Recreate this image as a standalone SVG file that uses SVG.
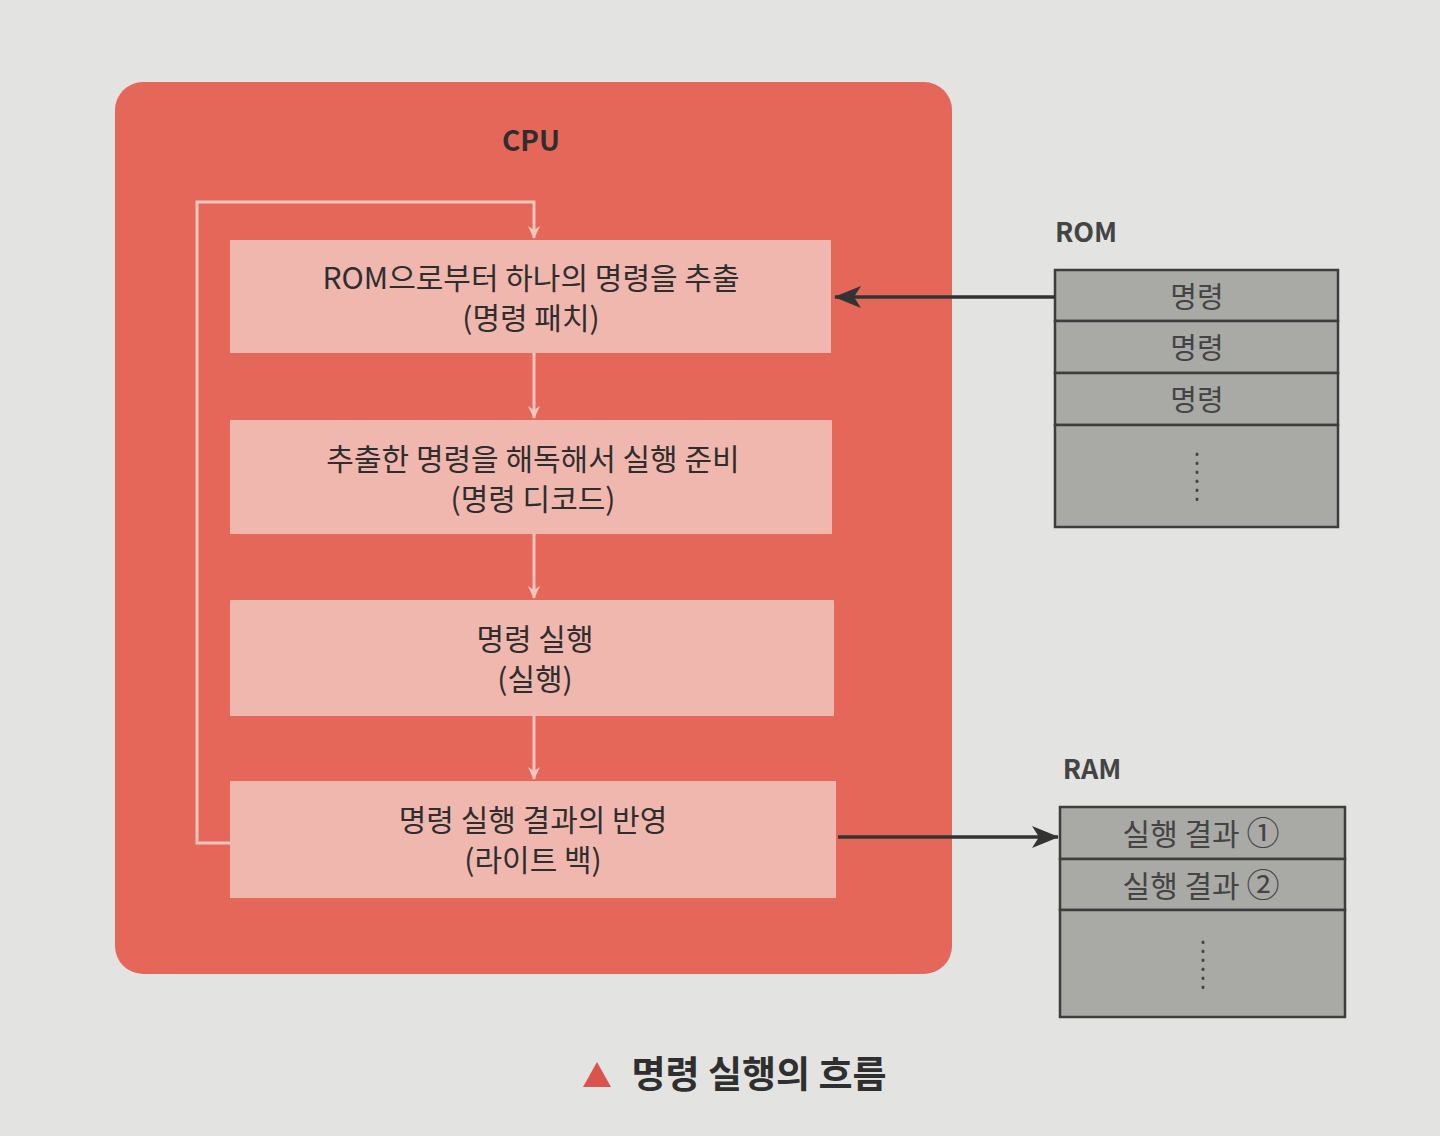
<svg xmlns="http://www.w3.org/2000/svg" width="1440" height="1136" viewBox="0 0 1440 1136">
<defs>
<style>
.t{font-family:"Noto Sans CJK KR","Noto Sans",sans-serif;fill:#2e2e2e;text-anchor:middle}
.box{fill:#f0b7ae;stroke:none}
.cell{fill:#a9a9a6;stroke:#3d3d3d;stroke-width:2.5}
.lt{stroke:#f4c6bd;stroke-width:3;fill:none}
.dk{stroke:#333;stroke-width:3.5;fill:none}
.b{font-weight:bold}
.g{fill:#444}
</style>
<marker id="ah" markerWidth="14" markerHeight="14" refX="12" refY="7" orient="auto" markerUnits="userSpaceOnUse">
<path d="M0,1 L13,7 L0,13 L4,7 Z" fill="#f4c6bd"/>
</marker>
<marker id="ahd" markerWidth="28" markerHeight="22" refX="26" refY="11" orient="auto" markerUnits="userSpaceOnUse">
<path d="M0,0 L27,11 L0,22 L7,11 Z" fill="#333"/>
</marker>
</defs>
<rect width="1440" height="1136" fill="#e3e3e1"/>
<g id="cpu">
<rect x="115" y="82" width="837" height="892" rx="28" fill="#e5675a"/>
<text class="t b" x="531" y="151" font-size="28">CPU</text>
</g>
<g id="fetch">
<rect class="box" x="230" y="240" width="601" height="113"/>
<text class="t" x="531" y="289" font-size="30">ROM으로부터 하나의 명령을 추출</text>
<text class="t" x="531" y="329" font-size="30">(명령 패치)</text>
</g>
<g id="decode">
<rect class="box" x="230" y="420" width="602" height="114"/>
<text class="t" x="533" y="470" font-size="30">추출한 명령을 해독해서 실행 준비</text>
<text class="t" x="533" y="510" font-size="30">(명령 디코드)</text>
</g>
<g id="execute">
<rect class="box" x="230" y="600" width="604" height="116"/>
<text class="t" x="535" y="650" font-size="30">명령 실행</text>
<text class="t" x="535" y="690" font-size="30">(실행)</text>
</g>
<g id="writeback">
<rect class="box" x="230" y="781" width="606" height="117"/>
<text class="t" x="533" y="831" font-size="30">명령 실행 결과의 반영</text>
<text class="t" x="533" y="871" font-size="30">(라이트 백)</text>
</g>
<g id="rom">
<text class="t b g" x="1086" y="242" font-size="27">ROM</text>
<rect class="cell" x="1055" y="270" width="283" height="51"/>
<rect class="cell" x="1055" y="321" width="283" height="52"/>
<rect class="cell" x="1055" y="373" width="283" height="52"/>
<rect class="cell" x="1055" y="425" width="283" height="102"/>
<text class="t g" x="1197" y="308" font-size="29">명령</text>
<text class="t g" x="1197" y="359" font-size="29">명령</text>
<text class="t g" x="1197" y="411" font-size="29">명령</text>
<line x1="1197" y1="454" x2="1197" y2="500" stroke="#444" stroke-width="3" stroke-dasharray="0.5 8.5" stroke-linecap="round"/>
</g>
<g id="ram">
<text class="t b g" x="1092" y="779" font-size="27">RAM</text>
<rect class="cell" x="1060" y="807" width="285" height="52"/>
<rect class="cell" x="1060" y="859" width="285" height="51"/>
<rect class="cell" x="1060" y="910" width="285" height="107"/>
<text class="t g" x="1201" y="845" font-size="30">실행 결과 <tspan font-size="33">①</tspan></text>
<text class="t g" x="1201" y="897" font-size="30">실행 결과 <tspan font-size="33">②</tspan></text>
<line x1="1203" y1="942" x2="1203" y2="988" stroke="#444" stroke-width="3" stroke-dasharray="0.5 8.5" stroke-linecap="round"/>
</g>
<g id="connectors">
<path class="lt" d="M230,843 H197 V202 H534 V238" marker-end="url(#ah)"/>
<line class="lt" x1="534" y1="353" x2="534" y2="418" marker-end="url(#ah)"/>
<line class="lt" x1="534" y1="534" x2="534" y2="598" marker-end="url(#ah)"/>
<line class="lt" x1="534" y1="716" x2="534" y2="779" marker-end="url(#ah)"/>
<line class="dk" x1="1055" y1="297" x2="835" y2="297" marker-end="url(#ahd)"/>
<line class="dk" x1="838" y1="837" x2="1058" y2="837" marker-end="url(#ahd)"/>
</g>
<g id="caption">
<path d="M583,1087 L597,1062 L611,1087 Z" fill="#d9544d"/>
<text class="t b" x="759" y="1088" font-size="37" style="fill:#2f2f2f">명령 실행의 흐름</text>
</g>
</svg>
